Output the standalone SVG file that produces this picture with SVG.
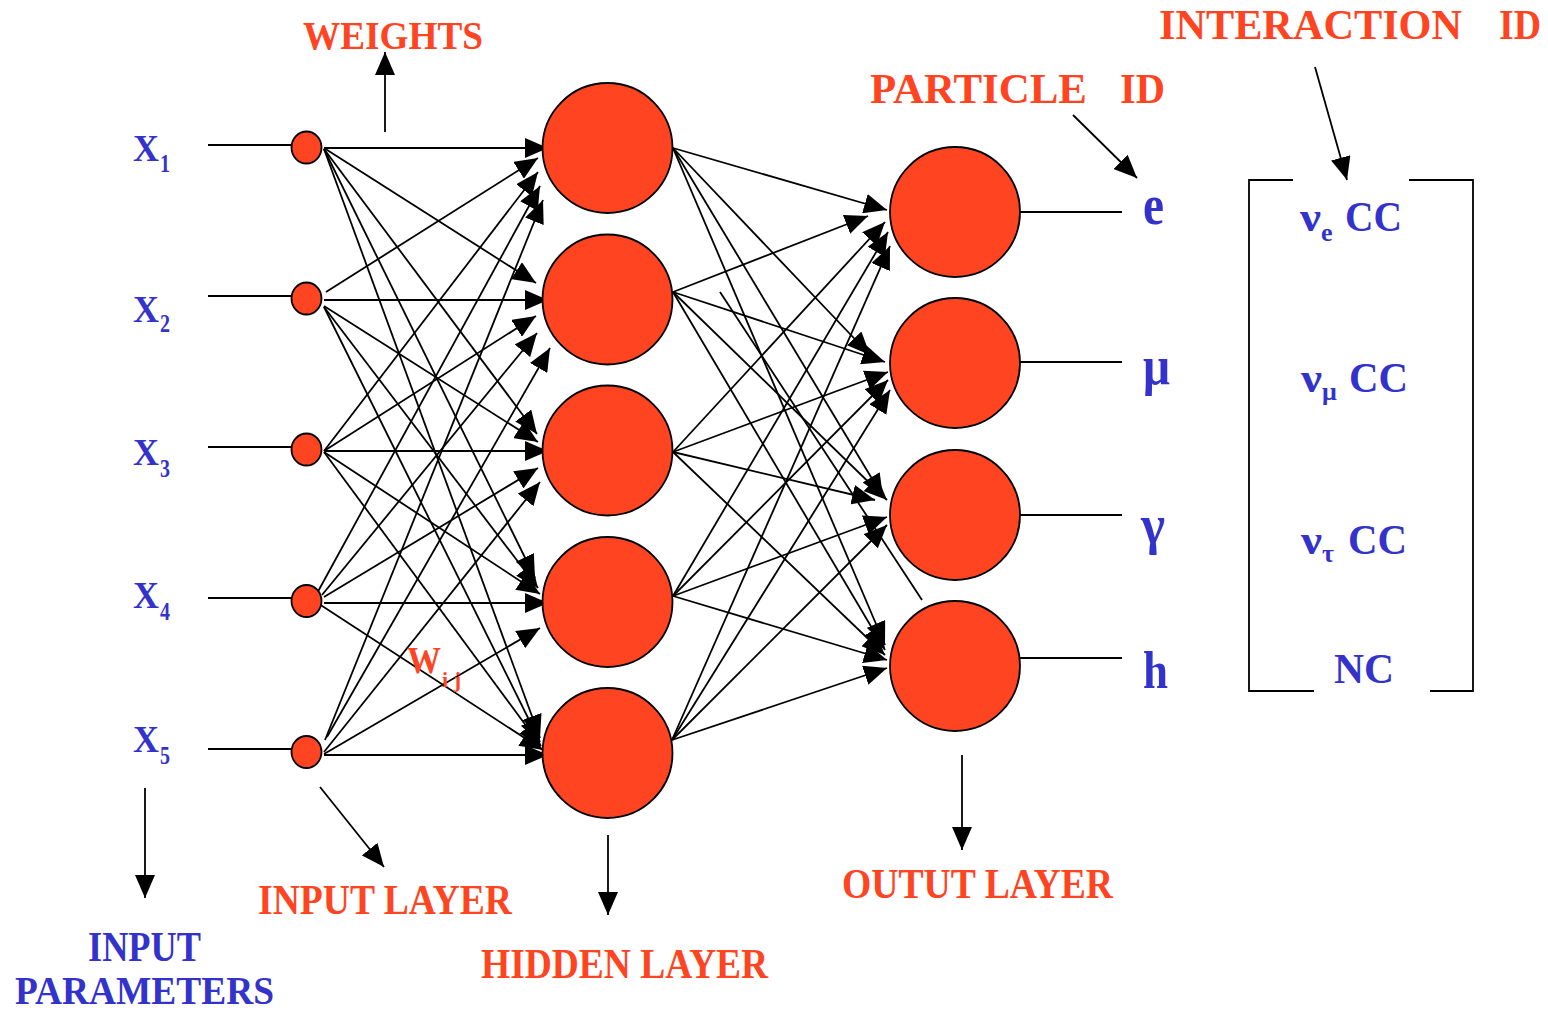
<svg xmlns="http://www.w3.org/2000/svg" width="1548" height="1011" viewBox="0 0 1548 1011">
<style>
.node{fill:#FF4422;stroke:#000;stroke-width:1.8}
.ln{stroke:#000;stroke-width:1.8;fill:none}
.ar{stroke:#000;stroke-width:1.8;fill:none;marker-end:url(#ah)}
.red{fill:#FF4422;font-family:"Liberation Serif","Times New Roman",serif;font-weight:bold}
.blue{fill:#3333CC;font-family:"Liberation Serif","Times New Roman",serif;font-weight:bold}
</style>
<defs>
<marker id="ah" markerUnits="userSpaceOnUse" markerWidth="23" markerHeight="20" refX="23" refY="10" orient="auto">
<path d="M0,0 L23,10 L0,20 Z" fill="#000"/>
</marker>
</defs>
<rect width="1548" height="1011" fill="#fff"/>

<g id="connectors">
<!-- input feed lines -->
<line class="ln" x1="208" y1="145" x2="297" y2="145"/>
<line class="ln" x1="208" y1="296" x2="297" y2="296"/>
<line class="ln" x1="208" y1="447" x2="297" y2="447"/>
<line class="ln" x1="208" y1="598" x2="297" y2="598"/>
<line class="ln" x1="208" y1="749" x2="297" y2="749"/>
<!-- input -> hidden -->
<line class="ar" x1="324" y1="148" x2="548" y2="148"/>
<line class="ar" x1="324" y1="148" x2="536" y2="283"/>
<line class="ar" x1="324" y1="149" x2="537" y2="434"/>
<line class="ar" x1="324" y1="149" x2="535" y2="578"/>
<line class="ar" x1="324" y1="149" x2="540" y2="738"/>

<line class="ar" x1="326" y1="292" x2="538" y2="158"/>
<line class="ar" x1="324" y1="300" x2="548" y2="300"/>
<line class="ar" x1="324" y1="306" x2="538" y2="442"/>
<line class="ar" x1="324" y1="307" x2="538" y2="588"/>
<line class="ar" x1="324" y1="307" x2="540" y2="742"/>

<line class="ar" x1="324" y1="451" x2="538" y2="172"/>
<line class="ar" x1="324" y1="451" x2="536" y2="316"/>
<line class="ar" x1="324" y1="451" x2="548" y2="451"/>
<line class="ar" x1="324" y1="452" x2="540" y2="594"/>
<line class="ar" x1="324" y1="452" x2="541" y2="746"/>

<line class="ar" x1="315" y1="597" x2="540" y2="186"/>
<line class="ar" x1="322" y1="595" x2="537" y2="333"/>
<line class="ar" x1="324" y1="597" x2="538" y2="468"/>
<line class="ar" x1="324" y1="603" x2="548" y2="603"/>
<line class="ar" x1="313" y1="600" x2="543" y2="750"/>

<line class="ar" x1="325" y1="740" x2="543" y2="200"/>
<line class="ar" x1="327" y1="737" x2="550" y2="348"/>
<line class="ar" x1="324" y1="752" x2="540" y2="482"/>
<line class="ar" x1="324" y1="754" x2="540" y2="628"/>
<line class="ar" x1="324" y1="755" x2="548" y2="755"/>
<!-- hidden -> output -->
<line class="ar" x1="673" y1="148" x2="887" y2="210"/>
<line class="ar" x1="673" y1="148" x2="870" y2="355"/>
<line class="ar" x1="673" y1="148" x2="883" y2="497"/>
<line class="ar" x1="673" y1="148" x2="885" y2="645"/>

<line class="ar" x1="673" y1="292" x2="868" y2="216"/>
<line class="ar" x1="673" y1="292" x2="885" y2="362"/>
<line class="ar" x1="673" y1="292" x2="887" y2="500"/>
<line class="ar" x1="673" y1="292" x2="885" y2="650"/>

<line class="ar" x1="673" y1="452" x2="885" y2="222"/>
<line class="ar" x1="673" y1="452" x2="888" y2="372"/>
<line class="ar" x1="673" y1="452" x2="875" y2="500"/>
<line class="ar" x1="673" y1="452" x2="885" y2="655"/>

<line class="ar" x1="673" y1="596" x2="888" y2="232"/>
<line class="ar" x1="673" y1="596" x2="888" y2="380"/>
<line class="ar" x1="673" y1="596" x2="887" y2="517"/>
<line class="ar" x1="673" y1="596" x2="887" y2="660"/>

<line class="ar" x1="672" y1="740" x2="890" y2="246"/>
<line class="ar" x1="672" y1="740" x2="890" y2="390"/>
<line class="ar" x1="672" y1="740" x2="887" y2="525"/>
<line class="ar" x1="672" y1="740" x2="887" y2="668"/>
<!-- stray line -->
<line class="ln" x1="720" y1="292" x2="922" y2="600"/>
<!-- output lines -->
<line class="ln" x1="1020" y1="212" x2="1122" y2="212"/>
<line class="ln" x1="1020" y1="362" x2="1122" y2="362"/>
<line class="ln" x1="1020" y1="515" x2="1122" y2="515"/>
<line class="ln" x1="1020" y1="658" x2="1122" y2="658"/>
<!-- label arrows -->
<line class="ar" x1="385" y1="132" x2="385" y2="52"/>
<line class="ar" x1="1073" y1="115" x2="1137" y2="178"/>
<line class="ar" x1="1315" y1="67" x2="1347" y2="180"/>
<line class="ar" x1="145" y1="788" x2="145" y2="898"/>
<line class="ar" x1="320" y1="787" x2="384" y2="867"/>
<line class="ar" x1="608" y1="835" x2="608" y2="915"/>
<line class="ar" x1="962" y1="755" x2="962" y2="850"/>
<!-- bracket -->
<polyline class="ln" points="1293,180 1249,180 1249,691 1314,691"/>
<polyline class="ln" points="1409,180 1473,180 1473,691 1430,691"/>
</g>

<g id="input-nodes">
<ellipse id="in1" class="node" cx="306.5" cy="147.5" rx="15" ry="16"/>
<ellipse id="in2" class="node" cx="306.5" cy="298.5" rx="15" ry="16"/>
<ellipse id="in3" class="node" cx="306.5" cy="449.5" rx="15" ry="16"/>
<ellipse id="in4" class="node" cx="306.5" cy="601" rx="15" ry="16"/>
<ellipse id="in5" class="node" cx="306.5" cy="752" rx="15" ry="16"/>
</g>
<g id="hidden-nodes">
<circle id="h1" class="node" cx="607.5" cy="148" r="65"/>
<circle id="h2" class="node" cx="607.5" cy="299.5" r="65"/>
<circle id="h3" class="node" cx="607.5" cy="450.5" r="65"/>
<circle id="h4" class="node" cx="607.5" cy="602" r="65"/>
<circle id="h5" class="node" cx="607.5" cy="753" r="65"/>
</g>
<g id="output-nodes">
<circle id="o1" class="node" cx="955" cy="212" r="65"/>
<circle id="o2" class="node" cx="955" cy="363" r="65"/>
<circle id="o3" class="node" cx="955" cy="515" r="65"/>
<circle id="o4" class="node" cx="955" cy="666" r="65"/>
</g>

<g id="input-labels" class="blue">
<text x="133" y="161" font-size="37" textLength="26" lengthAdjust="spacingAndGlyphs">X</text>
<text x="160" y="172" font-size="25" textLength="10" lengthAdjust="spacingAndGlyphs">1</text>
<text x="133" y="322" font-size="37" textLength="26" lengthAdjust="spacingAndGlyphs">X</text>
<text x="160" y="332" font-size="25" textLength="10" lengthAdjust="spacingAndGlyphs">2</text>
<text x="133" y="465" font-size="37" textLength="26" lengthAdjust="spacingAndGlyphs">X</text>
<text x="160" y="477" font-size="25" textLength="10" lengthAdjust="spacingAndGlyphs">3</text>
<text x="133" y="608" font-size="37" textLength="26" lengthAdjust="spacingAndGlyphs">X</text>
<text x="160" y="620" font-size="25" textLength="10" lengthAdjust="spacingAndGlyphs">4</text>
<text x="133" y="752" font-size="37" textLength="26" lengthAdjust="spacingAndGlyphs">X</text>
<text x="160" y="764" font-size="25" textLength="10" lengthAdjust="spacingAndGlyphs">5</text>
</g>

<g id="output-labels" class="blue">
<text x="1143" y="224" font-size="56" textLength="21" lengthAdjust="spacingAndGlyphs">e</text>
<text x="1143" y="384" font-size="54" textLength="27" lengthAdjust="spacingAndGlyphs">μ</text>
<text x="1141" y="543" font-size="54" textLength="24" lengthAdjust="spacingAndGlyphs">γ</text>
<text x="1143" y="688" font-size="52" textLength="25" lengthAdjust="spacingAndGlyphs">h</text>
</g>

<g id="interaction-labels" class="blue">
<text x="1300" y="231" font-size="42" textLength="21" lengthAdjust="spacingAndGlyphs">ν</text>
<text x="1321" y="241" font-size="26">e</text>
<text x="1345" y="231" font-size="42" textLength="57" lengthAdjust="spacingAndGlyphs">CC</text>
<text x="1301" y="392" font-size="42" textLength="21" lengthAdjust="spacingAndGlyphs">ν</text>
<text x="1322" y="400" font-size="26">μ</text>
<text x="1349" y="392" font-size="42" textLength="59" lengthAdjust="spacingAndGlyphs">CC</text>
<text x="1301" y="554" font-size="42" textLength="21" lengthAdjust="spacingAndGlyphs">ν</text>
<text x="1322" y="562" font-size="26">τ</text>
<text x="1348" y="554" font-size="42" textLength="59" lengthAdjust="spacingAndGlyphs">CC</text>
<text x="1334" y="683" font-size="42" textLength="60" lengthAdjust="spacingAndGlyphs">NC</text>
</g>

<g id="captions">
<text class="red" x="303" y="49" font-size="39" textLength="180" lengthAdjust="spacingAndGlyphs">WEIGHTS</text>
<text class="red" x="870" y="103" font-size="42" textLength="217" lengthAdjust="spacingAndGlyphs">PARTICLE</text>
<text class="red" x="1120" y="103" font-size="42" textLength="45" lengthAdjust="spacingAndGlyphs">ID</text>
<text class="red" x="1159" y="39" font-size="43" textLength="303" lengthAdjust="spacingAndGlyphs">INTERACTION</text>
<text class="red" x="1499" y="39" font-size="43" textLength="42" lengthAdjust="spacingAndGlyphs">ID</text>
<text class="red" x="258" y="914" font-size="42" textLength="254" lengthAdjust="spacingAndGlyphs">INPUT LAYER</text>
<text class="red" x="481" y="978" font-size="42" textLength="287" lengthAdjust="spacingAndGlyphs">HIDDEN LAYER</text>
<text class="red" x="842" y="898" font-size="42" textLength="271" lengthAdjust="spacingAndGlyphs">OUTUT LAYER</text>
<text class="blue" x="88" y="961" font-size="42" textLength="113" lengthAdjust="spacingAndGlyphs">INPUT</text>
<text class="blue" x="15" y="1004" font-size="40" textLength="259" lengthAdjust="spacingAndGlyphs">PARAMETERS</text>
<text class="red" x="407" y="673" font-size="37" textLength="34" lengthAdjust="spacingAndGlyphs">W</text>
<text class="red" x="442" y="687" font-size="22" textLength="19" lengthAdjust="spacingAndGlyphs">i j</text>
</g>
</svg>
